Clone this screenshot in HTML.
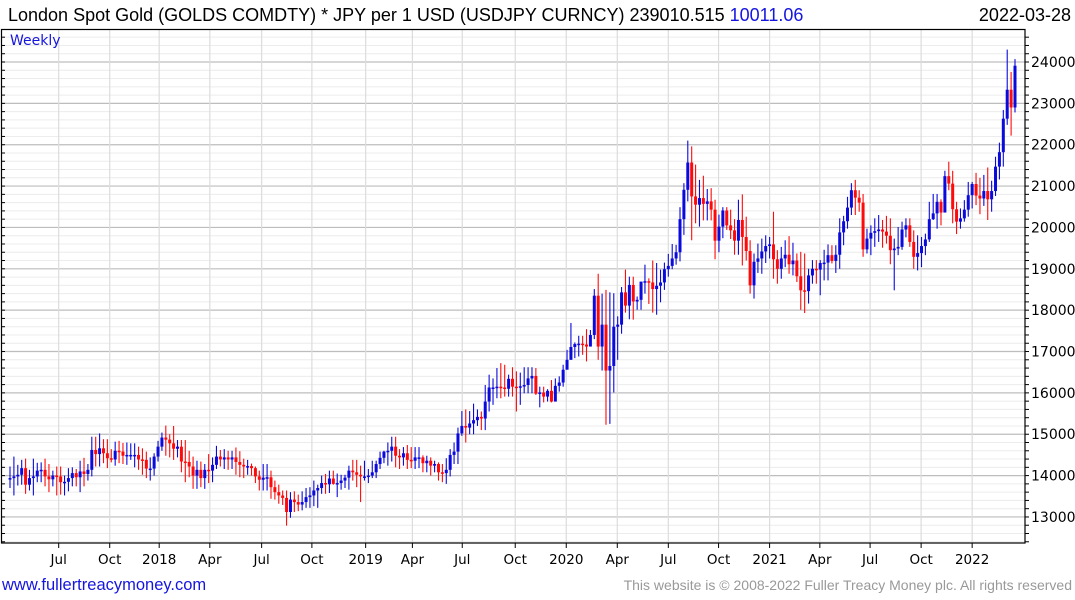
<!DOCTYPE html>
<html><head><meta charset="utf-8">
<style>
body{margin:0;width:1075px;height:600px;background:#fff;overflow:hidden;font-family:"Liberation Sans",sans-serif;}
svg{position:absolute;left:0;top:0}
.ax{font-family:"DejaVu Sans",sans-serif;}
</style></head>
<body>
<svg id="chart" width="1075" height="600">
  <text x="8" y="21" font-size="18" fill="#000">London Spot Gold (GOLDS COMDTY) * JPY per 1 USD (USDJPY CURNCY) 239010.515 <tspan fill="#1515e0">10011.06</tspan></text>
  <text x="1071" y="21" font-size="18" fill="#000" text-anchor="end">2022-03-28</text>
  <g id="grid"></g>
  <g id="marks"></g>
  <rect x="1.5" y="29.5" width="1023.5" height="513.5" fill="none" stroke="#000" stroke-width="1.2"/>
  <text x="10" y="45" font-size="14" fill="#1515e0" class="ax">Weekly</text>
  <g id="axes" class="ax"></g>
  <text x="2" y="590" font-size="16.5" fill="#1515e0">www.fullertreacymoney.com</text>
  <text x="1072" y="590" font-size="14" fill="#999" text-anchor="end">This website is © 2008-2022 Fuller Treacy Money plc. All rights reserved</text>
</svg>
<script>
const closes=[139.4,139.8,140.2,141.8,137.8,139.4,139.8,141.2,141.4,139.8,139.1,140,139.8,138.4,138.5,139.4,140.6,139.6,141,140.4,141.4,146.2,145.2,146.6,145.4,144.2,143.9,146,145.8,144.8,145,145,145,143.9,143.8,141.7,141.7,144.6,147,149.2,148.7,147.8,146.5,147,143.4,143.3,142.2,140,141.4,139.4,141.4,141.2,142.6,144.6,143.9,144.4,143.9,144.4,143.3,142.6,142.2,142.3,141.8,139.8,139,139.5,139.6,137.2,136,135.2,134.6,131.2,134.2,133.6,133,133.6,134.8,135.2,136.4,137,138.2,137.9,139.3,138,138.2,138.8,139.5,141.2,140.8,140.2,139.8,139.8,140,140.8,142.8,144.3,145.8,146,147,144.8,144.4,145.4,143.8,143.6,144.4,144.4,143,143.6,142.4,142.8,140.8,140.6,141.4,145,145.8,150.2,152,151.6,152.6,153.4,154.2,153.8,
157.9,161.3,161.3,161.5,161.3,161,163.4,161.5,161.4,161.6,161.9,163.5,164.1,159.8,160.1,159.1,160.5,157.9,161.7,162.5,165.6,168,171.1,171.8,171.9,171.7,171.2,174,183.5,171.2,176.5,165.4,166.5,176,176.5,184.3,181.1,186.1,182.1,182.5,186.9,187,186.7,185.1,185.9,186.7,189.9,190.7,192.5,194,202,209.1,215.7,207.5,205.5,207.1,205.7,206.3,204.3,196.8,200.2,204.1,200.5,199.3,196.8,201.8,
197.7,194.3,186,191.7,192.5,194.2,195.5,195.9,192.3,190,192.5,193.4,191.1,192,188.2,184.8,184.6,188.4,190,189.8,191.4,191.5,193.3,191.9,193.4,198.8,201.5,204.8,209,207.2,206,194.7,197.3,198.7,199.1,199.5,199,198,194.5,194.9,195.3,199.5,200.5,196.5,192.9,193.8,195.5,197.1,202,203.4,206.2,203.6,212.4,210.6,204.4,201.4,202.2,204.3,207.8,210.5,207.7,207,208.8,206.8,208.8,214.7,218.2,226.3,233.3,229,239.1];
const highs=[142.2,144.6,142.6,143.8,144.1,141.4,144.1,143.1,143.2,144.1,142.8,141.2,142.2,142.2,140,141.8,142,141.6,143.6,144.3,142.8,149.4,149.4,150.2,148.8,148.8,146.4,148.2,148.4,147.9,148,147.8,147.8,147,146.6,145.8,144.4,145.4,148.4,150.4,152.1,150,152,148.6,148.6,148.6,146,144.6,143.6,143.4,142.8,145.2,144.4,147.2,146.2,146.4,146,146,146.8,145.9,144.1,143.8,142.9,142.2,141.2,142.8,142.8,141.2,138.8,137.8,136.4,136.4,136,136.2,135.4,136.2,137,137.2,138.8,137.8,140,140.4,141.2,141.2,140.5,140.2,140.2,142.4,143.8,143.8,142.4,143.6,141.6,143.6,143.6,145.8,146,148,149.4,149.4,146.4,146.9,147.4,146.9,146.9,146.9,144.9,144.8,144.4,143.6,143.2,142.8,144.2,146.4,148,151.6,155.6,156,155.6,157.4,156,155.5,
161.9,164.4,163.5,166,167.2,166.8,164.4,166.2,165.2,164.9,166.2,166.2,166.2,166,161.5,161.5,160.9,163.1,163.5,164,166.8,170.4,176.9,172.2,173.8,173.8,175.4,175.2,185.1,188.8,184,184.9,184.3,184.1,178.5,185.6,189.8,188.1,188.1,183.3,186.9,191,187.7,192,191.4,189.8,191.5,193.6,196,195.8,204.9,210.7,221,219.6,215.2,211.5,212.5,209.3,209.5,206.7,203.1,204.9,204.9,204.3,202,206.7,
208,202.6,196.9,193.7,196.1,197.3,198.1,197.7,203.8,194.5,195.3,196.9,197.9,196.3,193.7,194.1,193.7,190,192.1,192.1,192.1,194.6,195.9,195.7,195.7,202.2,202.8,207.4,210.7,211.5,209,208.1,199.7,200.5,202.2,203,201.8,202.8,202.2,197.3,200.1,201.4,202.2,202.2,199.3,198.1,197.7,198.5,206.2,208.1,208.1,206.8,213.7,215.9,213.7,206.2,204.6,206.6,211,211,213.2,212,212.7,214.5,211.3,217.1,220.5,228.4,243,237.6,240.7];
const lows=[137,135.2,137.6,137.8,135.6,136.4,135.2,138.4,138.4,137.4,136,137.4,135.2,135.4,135.2,136.2,137.4,137.4,136,137.4,138.8,139.8,142.2,142.2,143,141.8,143.2,142.4,143,142.8,142.6,143.8,142,141.4,140.2,139.4,138.8,140,143.4,146,144.8,144.4,143.8,144.4,140.8,138.4,139.6,136.8,136.8,137.2,136.8,138.2,138.4,141.6,142.2,141.6,141.4,141.6,140.2,139.6,139.4,140.2,140,138.2,136.4,136.4,136.4,134.4,134.2,133.2,132.9,127.9,129.8,131.2,131.4,131.6,132.2,132.2,132.6,132.2,135.6,135.6,135.8,137.8,134.8,136.6,137,136.6,138.8,137.2,133.6,138.8,138.2,139.4,139.4,141.6,143,142.4,143.4,142,141.6,142.4,141.6,141.8,141.6,141.8,140.8,140.8,140,140.8,138.8,138.4,138,139.8,142.8,142.8,149.6,148,150,150,152,151,
151,155.5,157.1,158.7,158.7,159.1,159.1,159.1,155.5,157.1,159.9,159.9,159.9,159.5,156.5,157.7,157.9,157.7,157.9,160.3,161.5,165.8,168,168.4,168.8,169.2,167.6,171.2,173,168,165.4,152.3,152.5,160.1,168,174.3,179.4,177.8,177.7,180.1,180.1,184,181.5,179.4,178.9,181.9,184.9,188.1,189.9,191,191.8,198.2,206.3,196.9,201,200.2,201.7,201.7,201.7,192.3,194,197.4,199.4,197.2,193.4,193.4,
190.8,192,184,182.8,189,188.8,191.4,192.5,187.6,186.4,187.6,190.4,188.8,188.4,186.8,180.1,179.3,181.6,186.4,186.4,183.6,187.2,187.2,191.3,189,190,195.7,199.7,203,203,203.8,192.9,193.7,193.3,195.3,196.5,195.1,196.1,191.1,184.8,193.3,194.6,197.6,195.3,190,189.6,190.4,193.3,196.5,201.8,199.7,200.5,204.6,209,201,198.4,199.7,201.4,202.6,204.6,205.4,203.2,205.2,201.8,203.8,207.6,211.6,214.7,224.8,222.2,227.8];
const yTicks=[130,140,150,160,170,180,190,200,210,220,230,240];
const xLabels=["Jul","Oct","2018","Apr","Jul","Oct","2019","Apr","Jul","Oct","2020","Apr","Jul","Oct","2021","Apr","Jul","Oct","2022"];
const xLabelWeeks=[12.5,25.6,38.3,51.3,64.6,77.5,91.3,103.3,116.1,129.7,142.8,155.9,169,181.9,195,207.9,220.8,233.9,247];

const NS="http://www.w3.org/2000/svg";
const X0=10,XSTEP=(1015-10)/258;
function xs(i){return X0+i*XSTEP;}
function ys(v){return 62+(240-v)*4.136;}
function mk(tag,attrs,parent){const e=document.createElementNS(NS,tag);for(const k in attrs)e.setAttribute(k,attrs[k]);parent.appendChild(e);return e;}
const grid=document.getElementById('grid'),marks=document.getElementById('marks'),axes=document.getElementById('axes');
for(let v=124;v<=246;v+=2){const y=ys(v);if(y<30||y>542)continue;
  const major=v%10===0;
  const l=mk('line',{x1:2,x2:1025,y1:y,y2:y,stroke:major?'#bdbdbd':'#ececec','stroke-width':major?1.2:1},grid);
  
  
  const t=mk('line',{x1:1025,x2:1029,y1:y,y2:y,stroke:'#000'},axes);
  
  
  const t2=mk('line',{x1:2,x2:5,y1:y,y2:y,stroke:'#000'},axes);
  
  
}
yTicks.forEach(v=>{
  const t=mk('text',{x:1031,y:ys(v)+5,'font-size':14,fill:'#000'},axes);
  t.textContent=(v*1000).toString();
  
  
});
xLabelWeeks.forEach((w,i)=>{
  const x=xs(w);
  const g=mk('line',{x1:x,x2:x,y1:30,y2:543,stroke:'#dcdcdc','stroke-width':1.2},grid);
  
  
  const t=mk('line',{x1:x,x2:x,y1:543,y2:548,stroke:'#000'},axes);
  
  
  const l=mk('text',{x:x,y:564,'font-size':13.5,'text-anchor':'middle',fill:'#000'},axes);
  l.textContent=xLabels[i];
  
  
});
closes.forEach((c,i)=>{
  const o=i===0?139.4:closes[i-1];
  const up=c>=o;const col=up?'#0a0adc':'#ff0a0a';const x=xs(i);
  const w=mk('line',{x1:x,x2:x,y1:ys(highs[i]),y2:ys(lows[i]),stroke:col,'stroke-width':1.1},marks);
  
  
  const top=ys(Math.max(o,c)),bot=ys(Math.min(o,c));
  const b=mk('rect',{x:x-1.5,y:top,width:3,height:Math.max(1.5,bot-top),fill:col},marks);
  
  
});
</script>
</body></html>
